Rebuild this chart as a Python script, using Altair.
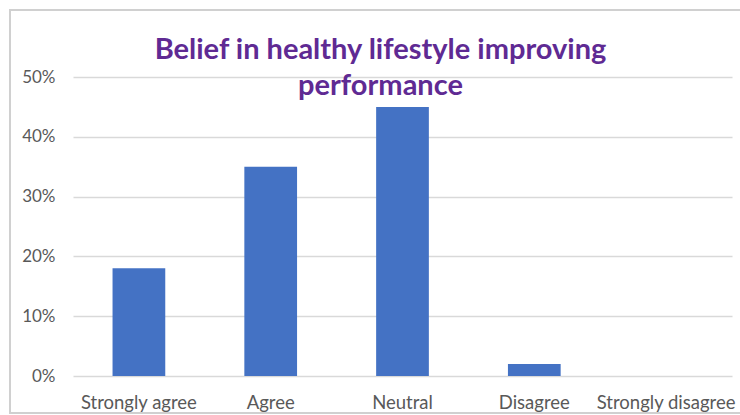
import altair as alt
import pandas as pd

# Survey responses: share of respondents per answer
categories = ["Strongly agree", "Agree", "Neutral", "Disagree", "Strongly disagree"]
shares = [0.18, 0.35, 0.45, 0.02, 0.0]

df = pd.DataFrame({"response": categories, "share": shares})

FONT = "Lato"
GRAY = "#595959"

bars = alt.Chart(df).mark_bar(color="#4472C4").encode(
    x=alt.X(
        "response:N",
        sort=categories,
        scale=alt.Scale(paddingInner=0.6, paddingOuter=0.3),
        axis=alt.Axis(
            title=None, labelAngle=0, labelFontSize=18.5, labelColor=GRAY,
            labelFont=FONT, labelPadding=17, ticks=False, domain=False,
        ),
    ),
    y=alt.Y(
        "share:Q",
        scale=alt.Scale(domain=[0, 0.5]),
        axis=alt.Axis(
            title=None, format="%", values=[0, 0.1, 0.2, 0.3, 0.4, 0.5],
            labelFontSize=17, labelColor=GRAY, labelFont=FONT, labelPadding=18,
            ticks=False, domain=False, gridColor="#d9d9d9", gridWidth=1.3,
        ),
    ),
)

# outer frame around the chart object
frame = alt.Chart(df).mark_rect(
    fill=None, stroke="#d0d0d0", strokeWidth=1.5
).encode(
    x=alt.value(-63), x2=alt.value(720), y=alt.value(-67), y2=alt.value(336)
)

chart = alt.layer(frame, bars).properties(
    width=659,
    height=299,
    padding={"left": 73, "top": 77, "right": 8, "bottom": 39},
    autosize=alt.AutoSizeParams(type="none"),
    title=alt.TitleParams(
        text=["Belief in healthy lifestyle improving", "performance"],
        fontSize=29, font=FONT, fontWeight="bold", color="#5f2a93",
        anchor="middle", lineHeight=36, offset=-26, dy=66, dx=-22,
    ),
).configure_view(stroke=None)

chart.save("out.html", embed_options={"renderer": "svg", "actions": False})
